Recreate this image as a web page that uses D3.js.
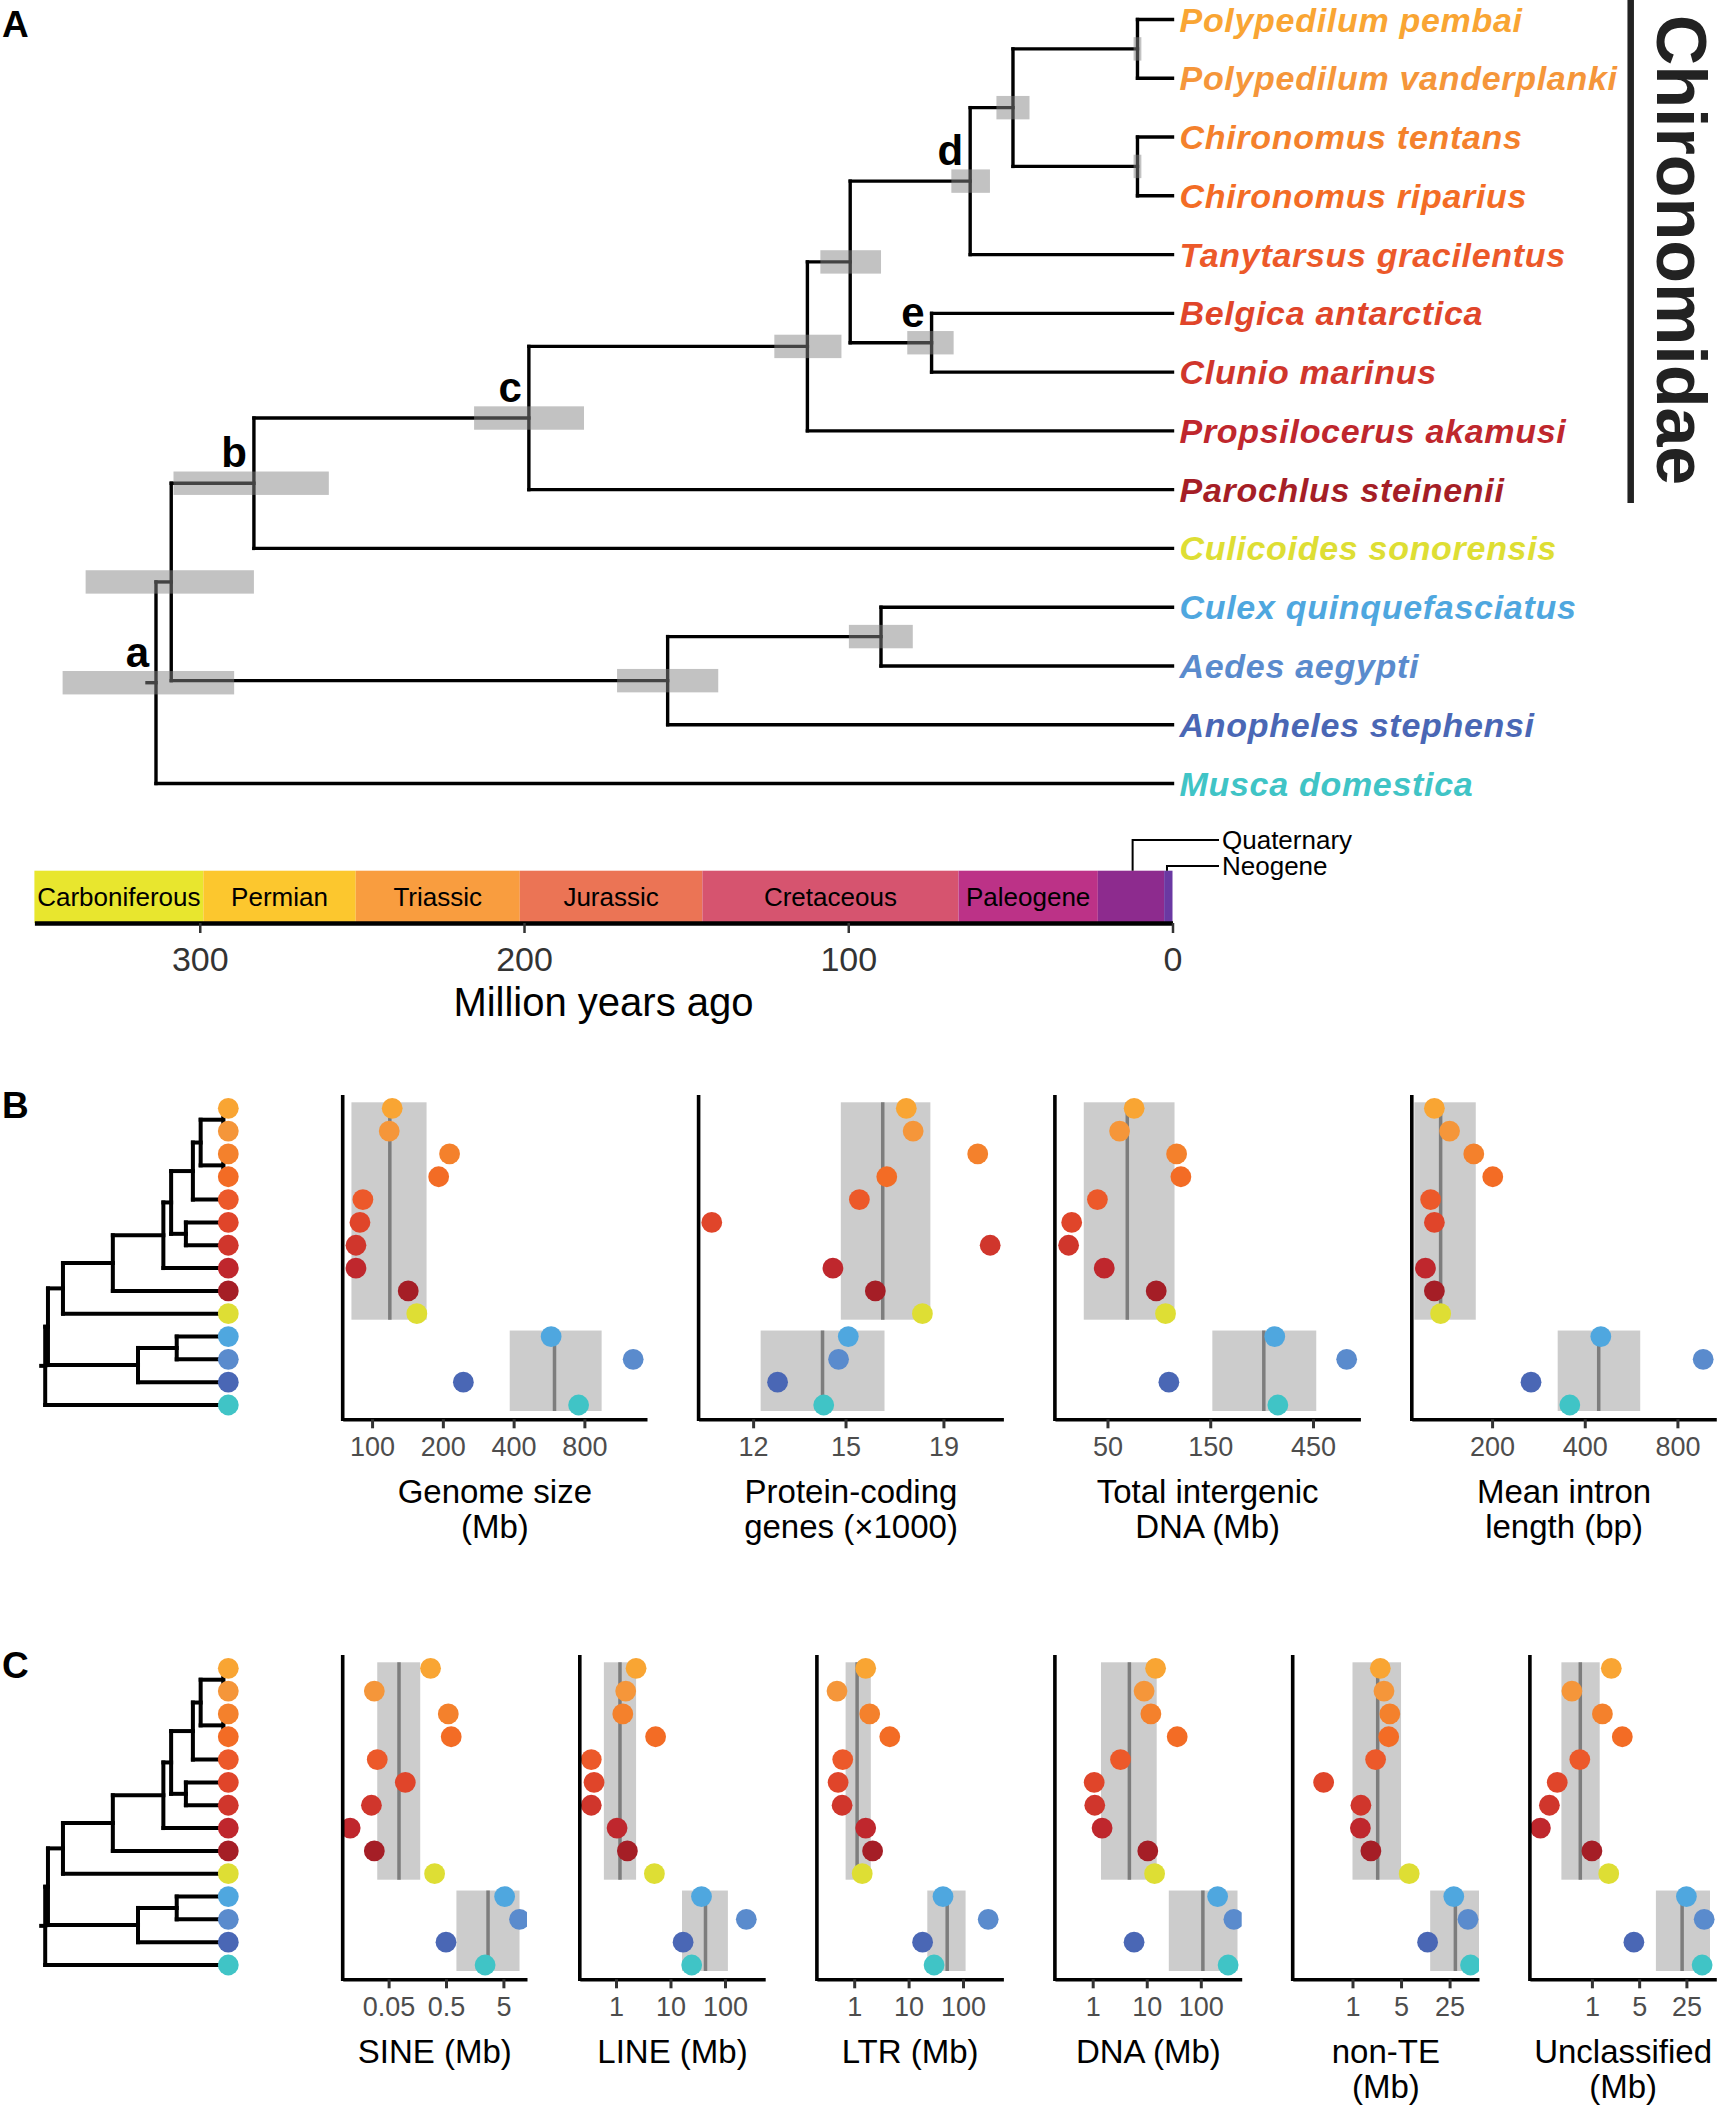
<!DOCTYPE html>
<html><head><meta charset="utf-8">
<script src="https://cdn.jsdelivr.net/npm/d3@7"></script>
<style>
body{margin:0;background:#fff}
svg{display:block}
text{font-family:"Liberation Sans",Arial,Helvetica,sans-serif}
</style>
</head><body>
<svg id="fig" width="1723" height="2107"></svg>
<script>
// ---------------- DATA ----------------
const species = ["Polypedilum pembai","Polypedilum vanderplanki","Chironomus tentans","Chironomus riparius",
  "Tanytarsus gracilentus","Belgica antarctica","Clunio marinus","Propsilocerus akamusi","Parochlus steinenii",
  "Culicoides sonorensis","Culex quinquefasciatus","Aedes aegypti","Anopheles stephensi","Musca domestica"];
const speciesColors = ["#F9A533","#F5963A","#F4812C","#F36C25","#EC592A","#E0452A","#D0362C","#BF272D","#A51E26",
  "#DEDE34","#4FA7DF","#5A8BCD","#4A67B5","#40C4C6"];

// internal nodes of the time tree (ages in Mya, with CI)
const nodeNames    = ["n1","n2","n3","n4","n5","n6","n7","n8","n9","n10","n11","n12","n13"];
const nodeChildren = [
  ["Polypedilum pembai","Polypedilum vanderplanki"],
  ["Chironomus tentans","Chironomus riparius"],
  ["n1","n2"],
  ["n3","Tanytarsus gracilentus"],
  ["Belgica antarctica","Clunio marinus"],
  ["n4","n5"],
  ["n6","Propsilocerus akamusi"],
  ["n7","Parochlus steinenii"],
  ["n8","Culicoides sonorensis"],
  ["Culex quinquefasciatus","Aedes aegypti"],
  ["n10","Anopheles stephensi"],
  ["n9","n11"],
  ["n12","Musca domestica"]];
const nodeAges   = [10.8, 10.8, 49.2, 62.4, 74.3, 99.4, 112.6, 198.5, 283.3, 89.9, 155.7, 308.8, 313.5];
const nodeCiLow  = [9.6, 9.6, 44.1, 56.3, 67.5, 89.9, 102.1, 181.5, 260.2, 80.1, 140.1, 283.3, 289.4];
const nodeCiHigh = [12.0, 12.0, 54.3, 68.2, 81.8, 108.6, 122.8, 215.4, 308.1, 99.8, 171.3, 335.2, 342.3];
const nodeLabels = ["","","","d","e","","","c","b","","","","a"];

// geological time scale
const periodNames  = ["Carboniferous","Permian","Triassic","Jurassic","Cretaceous","Paleogene","Neogene","Quaternary"];
const periodStart  = [351, 298.9, 251.9, 201.3, 145, 66, 23.03, 2.58];
const periodEnd    = [298.9, 251.9, 201.3, 145, 66, 23.03, 2.58, 0];
const periodColors = ["#E8E62E","#FCC72E","#F99D3F","#EB7455","#D6546F","#BC3287","#8D2B8E","#6A38A2"];
const periodInside = [true, true, true, true, true, true, false, false];
const calloutNames = ["Quaternary","Neogene"];
const calloutAges  = [12.3, 1.7];
const timeTicks = [300, 200, 100, 0];

// Panel B values (one per species, same order)
const genomeSize    = [121.8,118.3,213.6,192,91.4,88.8,85.4,85.4,142.5,155,577.6,1290,244.5,756];
const proteinGenes  = [17.37,17.66,20.64,16.57,15.51,10.86,21.27,14.55,16.12,18.06,15.10,14.75,12.73,14.23];
const intergenicDNA = [66.5,56.9,104.7,109.6,44.9,34.1,33.0,48.3,84.2,93,299,645,96.4,309];
const intronLength  = [129.9,145.5,174.4,201,126.3,129.9,null,121.5,129.9,136.1,451,970,267.6,357.7];
// Panel C values
const sineMb   = [0.269,0.0282,0.548,0.616,0.0317,0.0977,0.0251,0.0107,0.0282,0.3165,5.25,9.54,0.5,2.4];
const lineMb   = [2.338,1.507,1.333,5.33,0.352,0.396,0.352,1.047,1.619,5.066,37.05,246,17.03,24.49];
const ltrMb    = [1.627,0.483,1.927,4.51,0.615,0.506,0.599,1.627,2.179,1.403,42.9,290.6,18.08,29.4];
const dnaMb    = [14.58,8.93,11.93,36.6,3.27,1.066,1.093,1.493,10.46,13.97,204.6,409.8,5.83,320];
const nonTEMb  = [2.513,2.841,3.444,3.32,2.151,0.384,1.321,1.299,1.84,6.55,28.73,46,12.06,50.1];
const unclassMb= [1.936,0.506,1.43,2.817,0.662,0.307,0.235,0.173,1.0,1.773,25,45.8,4.18,42.7];

// group summary boxes [low, median, high] for group 1 (Chironomidae + Culicoides) and group 2
const genomeBox     = [[81.7,119,170.5],[385,597,947]];
const proteinBox    = [[14.83,16.41,18.41],[12.22,14.19,16.48]];
const intergenicBox = [[38.8,61.8,102.4],[153.4,266,466]];
const intronBox     = [[111.8,136.1,177],[326.7,444,605.7]];
const sineBox       = [[0.0317,0.0759,0.1777],[0.759,2.7,9.54]];
const lineBox       = [[0.5998,1.184,2.338],[16.26,43.88,113]];
const ltrBox        = [[0.695,1.131,2.02],[22.07,51.23,111.6]];
const dnaBox        = [[1.424,4.775,15.28],[25.58,109.3,477.5]];
const nonTEBox      = [[1.0,2.306,5.0],[13.14,30.3,67.3]];
const unclassBox    = [[0.3538,0.6737,1.304],[8.845,21.6,55.85]];

// axis domains and ticks
const genomeDomain = [75,1477],  genomeTicks = [100,200,400,800];
const proteinDomain = [10.52,21.96], proteinTicks = [12,15,19];
const intergenicDomain = [28.5,747], intergenicTicks = [50,150,450];
const intronDomain = [109.7,1070], intronTicks = [200,400,800];
const sineDomain = [0.00793,12.88], sineTicks = [0.05,0.5,5];
const lineDomain = [0.2168,546.7], lineTicks = [1,10,100];
const ltrDomain = [0.2062,553], ltrTicks = [1,10,100];
const dnaDomain = [0.2,571], dnaTicks = [1,10,100];
const nonTEDomain = [0.1377,66.3], nonTETicks = [1,5,25];
const unclassDomain = [0.121,69.2], unclassTicks = [1,5,25];

// ---------------- DRAW ----------------
const svg = d3.select("#fig");
const FONT = '"Liberation Sans",Arial,Helvetica,sans-serif';

function buildTree(){
  const map = {};
  species.forEach((s,i)=> map[s] = {name:s, age:0, tip:i});
  nodeNames.forEach((n,i)=> map[n] = {name:n, age:nodeAges[i], lo:nodeCiLow[i], hi:nodeCiHigh[i], label:nodeLabels[i], kids:nodeChildren[i]});
  nodeNames.forEach(n => map[n].children = map[n].kids.map(k=>map[k]));
  return d3.hierarchy(map["n13"]);
}

function layoutTree(root, tipY){
  root.eachAfter(d => { d.py = d.children ? d3.mean(d.children, c=>c.py) : tipY(d.data.tip); });
}

function drawTreeLines(g, root, xs, width, stub){
  const segs = [];
  root.each(d => {
    if (!d.children) return;
    const x = xs(d.data.age);
    const ys = d.children.map(c=>c.py);
    segs.push([x, d3.min(ys), x, d3.max(ys)]);
    d.children.forEach(c => segs.push([x, c.py, xs(c.data.age), c.py]));
  });
  segs.push([xs(root.data.age)-stub, root.py, xs(root.data.age), root.py]);
  g.selectAll(null).data(segs).join("line")
    .attr("x1",d=>d[0]).attr("y1",d=>d[1]).attr("x2",d=>d[2]).attr("y2",d=>d[3])
    .attr("stroke","#000").attr("stroke-width",width).attr("stroke-linecap","square");
}

// ---- Panel A ----
const gA = svg.append("g");
const xTime = d3.scaleLinear().domain([351,0]).range([34.4,1172.5]);
const tipYA = d3.scaleLinear().domain([0,13]).range([19.5,783.5]);
const treeA = buildTree();
layoutTree(treeA, i=>tipYA(i));
drawTreeLines(gA, treeA, xTime, 3.4, 9);
// CI boxes
const inner = treeA.descendants().filter(d=>d.children);
gA.selectAll(null).data(inner).join("rect")
  .attr("x", d=>xTime(d.data.hi)).attr("width", d=>xTime(d.data.lo)-xTime(d.data.hi))
  .attr("y", d=>d.py-11.7).attr("height",23.4)
  .attr("fill","#868686").attr("opacity",0.5);
gA.selectAll(null).data(inner.filter(d=>d.data.label)).join("text")
  .attr("x", d=>xTime(d.data.age)-7).attr("y", d=>d.py-16)
  .attr("text-anchor","end").attr("font-weight","bold").attr("font-size",42)
  .text(d=>d.data.label);
// tip labels
gA.selectAll(null).data(species).join("text")
  .attr("x", xTime(0)+7).attr("y",(d,i)=>tipYA(i)+12)
  .attr("font-size",34).attr("font-weight","bold").attr("font-style","italic")
  .attr("letter-spacing",0.7)
  .attr("fill",(d,i)=>speciesColors[i]).text(d=>d);
// Chironomidae bar
gA.append("line").attr("x1",1630.7).attr("x2",1630.7).attr("y1",0).attr("y2",503)
  .attr("stroke","#222").attr("stroke-width",6.5);
gA.append("text").attr("transform","translate(1657,250) rotate(90)")
  .attr("text-anchor","middle").attr("font-weight","bold").attr("font-size",70).attr("fill","#222")
  .text("Chironomidae");
gA.append("text").attr("x",2).attr("y",37).attr("font-weight","bold").attr("font-size",37).text("A");

// time scale bar
const barTop = 870.7, barBot = 923;
gA.selectAll(null).data(periodNames).join("rect")
  .attr("x",(d,i)=>xTime(periodStart[i])).attr("width",(d,i)=>xTime(periodEnd[i])-xTime(periodStart[i]))
  .attr("y",barTop).attr("height",barBot-barTop).attr("fill",(d,i)=>periodColors[i]);
gA.selectAll(null).data(periodNames.filter((d,i)=>periodInside[i])).join("text")
  .attr("x",(d,i)=>(xTime(periodStart[i])+xTime(periodEnd[i]))/2).attr("y",906)
  .attr("text-anchor","middle").attr("font-size",26).text(d=>d);
const calloutY = [840, 866];
calloutNames.forEach((n,i)=>{
  const x = xTime(calloutAges[i]);
  gA.append("path").attr("d",`M${x},${barTop}V${calloutY[i]}H1219`)
    .attr("fill","none").attr("stroke","#000").attr("stroke-width",2);
  gA.append("text").attr("x",1222).attr("y",calloutY[i]+9).attr("font-size",26).text(n);
});
const axA = gA.append("g").attr("transform",`translate(0,${barBot})`)
  .call(d3.axisBottom(xTime).tickValues(timeTicks).tickSize(10).tickSizeOuter(0).tickPadding(14));
axA.select(".domain").attr("stroke","#000").attr("stroke-width",4.5);
axA.selectAll(".tick line").attr("stroke","#333").attr("stroke-width",2.5);
axA.selectAll(".tick text").attr("font-size",34).attr("fill","#333").attr("font-family",FONT);
gA.append("text").attr("x",(xTime(351)+xTime(0))/2).attr("y",1016).attr("text-anchor","middle")
  .attr("font-size",40).text("Million years ago");

// ---- Panels B and C ----
function drawSection(y0, letter, panels){
  const g = svg.append("g");
  const rowY = d3.scaleLinear().domain([0,13]).range([y0, y0+296.7]);
  const yTop = y0-13.3, yAxis = y0+311;
  g.append("text").attr("x",2).attr("y",y0+9.5).attr("font-weight","bold").attr("font-size",37).text(letter);
  // small tree
  const xSmall = d3.scaleLinear().domain([313.5,0]).range([45.2,229.6]);
  const t = buildTree();
  layoutTree(t, i=>rowY(i));
  drawTreeLines(g, t, xSmall, 4, 4);
  g.selectAll(null).data(species).join("circle")
    .attr("cx",228.3).attr("cy",(d,i)=>rowY(i)).attr("r",10.4).attr("fill",(d,i)=>speciesColors[i]);
  panels.forEach((p,pi)=>{
    const x = d3.scaleLog().domain(p.domain).range([p.x0,p.x1]);
    const clipId = `clip-${letter}-${pi}`;
    g.append("clipPath").attr("id",clipId).append("rect")
      .attr("x",p.x0).attr("y",yTop).attr("width",p.x1-p.x0).attr("height",yAxis-yTop);
    const pg = g.append("g").attr("clip-path",`url(#${clipId})`);
    const groups = [[0,9],[10,13]];
    groups.forEach((gr,gi)=>{
      const b = p.box[gi];
      const ya = rowY(gr[0])-6, yb = rowY(gr[1])+6;
      pg.append("rect").attr("x",x(b[0])).attr("width",x(b[2])-x(b[0]))
        .attr("y",ya).attr("height",yb-ya).attr("fill","#cccccc");
      pg.append("line").attr("x1",x(b[1])).attr("x2",x(b[1])).attr("y1",ya).attr("y2",yb)
        .attr("stroke","#7d7d7d").attr("stroke-width",3.5);
    });
    pg.selectAll(null).data(p.values.map((v,i)=>({v,i})).filter(d=>d.v!=null)).join("circle")
      .attr("cx",d=>x(d.v)).attr("cy",d=>rowY(d.i)).attr("r",10.4).attr("fill",d=>speciesColors[d.i]);
    // axes
    const ax = g.append("g").attr("transform",`translate(0,${yAxis})`)
      .call(d3.axisBottom(x).tickValues(p.ticks).tickFormat(d=>String(d)).tickSize(9).tickSizeOuter(0).tickPadding(8.5));
    ax.select(".domain").attr("stroke","#000").attr("stroke-width",3.6);
    ax.selectAll(".tick line").attr("stroke","#333").attr("stroke-width",3);
    ax.selectAll(".tick text").attr("font-size",27).attr("fill","#4d4d4d").attr("font-family",FONT);
    g.append("line").attr("x1",p.x0).attr("x2",p.x0).attr("y1",yTop).attr("y2",yAxis+1.8)
      .attr("stroke","#000").attr("stroke-width",3.6);
    p.title.forEach((tl,li)=>{
      g.append("text").attr("x",(p.x0+p.x1)/2).attr("y",y0+395+li*35)
        .attr("text-anchor","middle").attr("font-size",33).text(tl);
    });
  });
}

drawSection(1108.3, "B", [
  {x0:342.7, x1:647,    domain:genomeDomain,     ticks:genomeTicks,     values:genomeSize,    box:genomeBox,     title:["Genome size","(Mb)"]},
  {x0:698.6, x1:1003.4, domain:proteinDomain,    ticks:proteinTicks,    values:proteinGenes,  box:proteinBox,    title:["Protein-coding","genes (\u00d71000)"]},
  {x0:1054.9,x1:1360.4, domain:intergenicDomain, ticks:intergenicTicks, values:intergenicDNA, box:intergenicBox, title:["Total intergenic","DNA (Mb)"]},
  {x0:1411.8,x1:1716.3, domain:intronDomain,     ticks:intronTicks,     values:intronLength,  box:intronBox,     title:["Mean intron","length (bp)"]}
]);
drawSection(1668.3, "C", [
  {x0:342.7, x1:527,    domain:sineDomain,    ticks:sineTicks,    values:sineMb,    box:sineBox,    title:["SINE (Mb)"]},
  {x0:579.8, x1:765.2,  domain:lineDomain,    ticks:lineTicks,    values:lineMb,    box:lineBox,    title:["LINE (Mb)"]},
  {x0:816.9, x1:1003.4, domain:ltrDomain,     ticks:ltrTicks,     values:ltrMb,     box:ltrBox,     title:["LTR (Mb)"]},
  {x0:1054.9,x1:1241.7, domain:dnaDomain,     ticks:dnaTicks,     values:dnaMb,     box:dnaBox,     title:["DNA (Mb)"]},
  {x0:1292.7,x1:1479,   domain:nonTEDomain,   ticks:nonTETicks,   values:nonTEMb,   box:nonTEBox,   title:["non-TE","(Mb)"]},
  {x0:1529.9,x1:1716.3, domain:unclassDomain, ticks:unclassTicks, values:unclassMb, box:unclassBox, title:["Unclassified","(Mb)"]}
]);
</script>
</body></html>
